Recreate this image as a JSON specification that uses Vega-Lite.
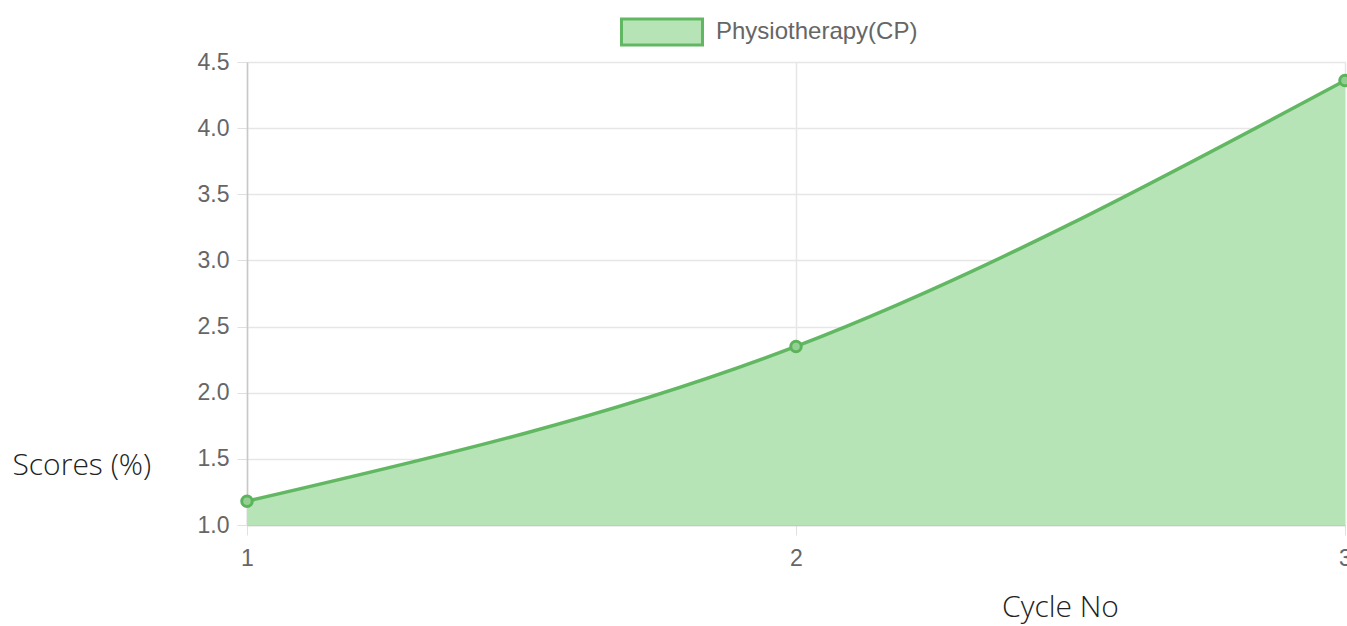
{
  "$schema": "https://vega.github.io/schema/vega-lite/v6.json",
  "autosize": "none",
  "padding": {"left": 247, "top": 62, "right": 2, "bottom": 101},
  "width": 1098,
  "height": 463,
  "background": "white",
  "config": {
    "view": {"stroke": null},
    "axis": {
      "labelFont": "Liberation Sans",
      "labelFontSize": 23,
      "labelColor": "#666666",
      "grid": true,
      "gridColor": "#e6e6e6",
      "gridWidth": 1.5,
      "tickColor": "#e0e0e0",
      "tickSize": 10,
      "domainColor": "#c8c8c8",
      "domainWidth": 1.5,
      "titleFont": "Open Sans",
      "titleFontSize": 30,
      "titleFontWeight": 300,
      "titleColor": "#222222"
    }
  },
  "data": {
    "values": [
      {"cycle": 1, "score": 1.18, "series": "Physiotherapy(CP)"},
      {"cycle": 2, "score": 2.35, "series": "Physiotherapy(CP)"},
      {"cycle": 3, "score": 4.36, "series": "Physiotherapy(CP)"}
    ]
  },
  "encoding": {
    "x": {
      "field": "cycle",
      "type": "quantitative",
      "scale": {"domain": [1, 3], "nice": false, "zero": false},
      "axis": {
        "tickCount": 2,
        "tickMinStep": 1,
        "format": "d",
        "grid": true,
        "labelFlush": false,
        "labelOverlap": false,
        "labelPadding": 12,
        "title": "Cycle No",
        "titleAngle": 0,
        "titleAnchor": null,
        "titleAlign": "center",
        "titleBaseline": "middle",
        "titleX": 813,
        "titleY": 82
      }
    },
    "y": {
      "field": "score",
      "type": "quantitative",
      "scale": {"domain": [1, 4.5], "nice": false, "zero": false},
      "axis": {
        "values": [1, 1.5, 2, 2.5, 3, 3.5, 4, 4.5],
        "format": ".1f",
        "grid": true,
        "labelOverlap": false,
        "labelFlush": false,
        "labelPadding": 8,
        "title": "Scores (%)",
        "titleAngle": 0,
        "titleAnchor": null,
        "titleAlign": "left",
        "titleBaseline": "middle",
        "titleX": -235,
        "titleY": 403
      }
    }
  },
  "layer": [
    {
      "mark": {"type": "area", "interpolate": "monotone", "opacity": 1},
      "encoding": {
        "y2": {"datum": 1},
        "color": {
          "field": "series",
          "type": "nominal",
          "scale": {"range": ["#b7e4b6"]},
          "legend": {
            "title": null,
            "orient": "none",
            "legendX": 373,
            "legendY": -72,
            "padding": 0,
            "symbolType": "M-1,-0.32H1V0.32H-1Z",
            "symbolSize": 6561,
            "symbolStrokeColor": "#62b862",
            "symbolStrokeWidth": 3,
            "symbolOpacity": 1,
            "labelFont": "Liberation Sans",
            "labelFontSize": 24,
            "labelLimit": 500,
            "labelColor": "#666666",
            "labelOffset": 12
          }
        }
      }
    },
    {
      "mark": {"type": "line", "interpolate": "monotone", "color": "#62b862", "strokeWidth": 3.5}
    },
    {
      "mark": {"type": "point", "shape": "circle", "filled": true, "size": 110, "fill": "#93d192", "stroke": "#5cb35c", "strokeWidth": 3, "opacity": 1}
    }
  ]
}
